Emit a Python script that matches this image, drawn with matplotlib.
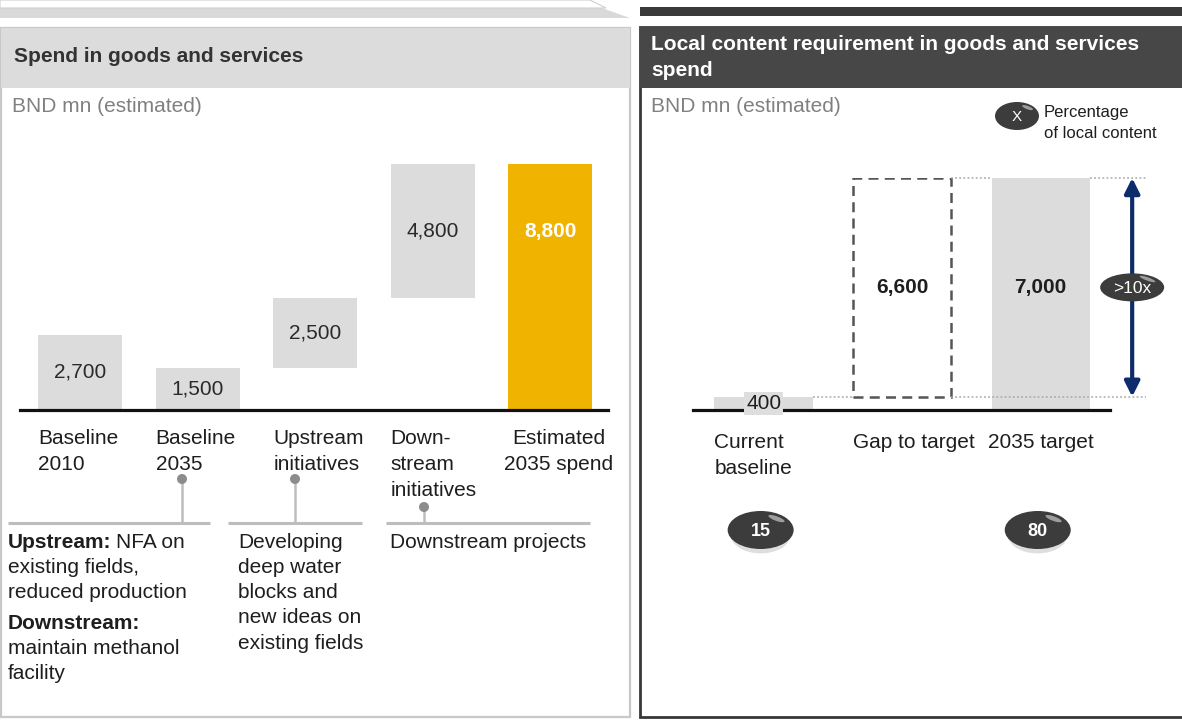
import matplotlib
matplotlib.use('Agg')
import matplotlib.pyplot as plt
from matplotlib.patches import Rectangle, Ellipse, Polygon

plt.rcParams['font.family'] = ['Liberation Sans', 'DejaVu Sans']

# ---------------- data ----------------
left_title = 'Spend in goods and services'
right_title = 'Local content requirement in goods and services\nspend'
unit_label = 'BND mn (estimated)'

left_categories = ['Baseline\n2010', 'Baseline\n2035', 'Upstream\ninitiatives',
                   'Down-\nstream\ninitiatives', 'Estimated\n2035 spend']
left_values = [2700, 1500, 2500, 4800, 8800]
left_kinds = ['total', 'total', 'delta', 'delta', 'total']
left_value_labels = ['2,700', '1,500', '2,500', '4,800', '8,800']

right_categories = ['Current\nbaseline', 'Gap to target', '2035 target']
right_values = [400, 6600, 7000]
right_kinds = ['total', 'gap', 'total']
right_value_labels = ['400', '6,600', '7,000']
local_share = ['15', None, '80']
multiple_label = '>10x'
legend_symbol = 'X'
legend_text = 'Percentage\nof local content'

note_baseline = [[('Upstream:', 'NFA on'), ('', 'existing fields,'), ('', 'reduced production')],
                 [('Downstream:', ''), ('', 'maintain methanol'), ('', 'facility')]]
note_upstream = [[('', 'Developing'), ('', 'deep water'), ('', 'blocks and'),
                  ('', 'new ideas on'), ('', 'existing fields')]]
note_downstream = [[('', 'Downstream projects')]]

# ---------------- styles ----------------
W, H = 1182, 720
GREY_BAR = '#DCDCDC'
GOLD = '#F0B400'
TXT = '#1E1E1E'
NAVY = '#0D2C6C'
PILL = '#3C3C3C'
FS = 15

fig = plt.figure(figsize=(W / 100, H / 100), dpi=100)
bg = fig.add_axes([0, 0, 1, 1])
bg.set_xlim(0, W)
bg.set_ylim(H, 0)
bg.axis('off')


def rect(x0, y0, x1, y1):
    return [x0 / W, 1 - y1 / H, (x1 - x0) / W, (y1 - y0) / H]


def to_px(ax, x, y):
    d = ax.transData.transform((x, y))
    return d[0], H - d[1]


def multiline(x, y, s, dy, **kw):
    for k, line in enumerate(s.split('\n')):
        bg.text(x, y + k * dy, line, va='center', **kw)


def note(x, y, paragraphs, dy=25.3, gap=5.5):
    yy = y
    for para in paragraphs:
        for bold, reg in para:
            if bold:
                t = bg.text(x, yy, bold, va='center', ha='left', fontsize=FS,
                            fontweight='bold', color=TXT)
                if reg:
                    bg.annotate(reg, xy=(1, yy), xycoords=(t, 'data'), xytext=(5, 0),
                                textcoords='offset pixels', va='center',
                                ha='left', fontsize=FS, color=TXT)
            else:
                bg.text(x, yy, reg, va='center', ha='left', fontsize=FS, color=TXT)
            yy += dy
        yy += gap


# ---------------- frames ----------------
bg.add_patch(Polygon([(0, 6), (596, 6), (630, 18), (0, 18)], closed=True,
                     fc='#D9D9D9', ec='none'))
bg.add_patch(Polygon([(0, 0), (590, 0), (606, 8), (0, 8)], closed=True,
                     fc='white', ec='#D0D0D0', lw=0.8))
bg.add_patch(Rectangle((640, 7), 545, 9, fc='#3A3A3A', ec='none'))

# left panel
bg.add_patch(Rectangle((1, 28), 629, 689, fc='white', ec='#C8C8C8', lw=1.6))
bg.add_patch(Rectangle((1, 28), 629, 60, fc='#DCDCDC', ec='none'))
bg.text(14, 57, left_title, va='center', ha='left', fontsize=FS, fontweight='bold',
        color='#333333')
bg.text(12, 107, unit_label, va='center', ha='left', fontsize=FS, color='#808080')

# right panel
bg.add_patch(Rectangle((640, 27), 560, 690, fc='white', ec='#383838', lw=2))
bg.add_patch(Rectangle((640, 27), 545, 61, fc='#474747', ec='none'))
multiline(651, 45, right_title, 25, ha='left', fontsize=FS, fontweight='bold',
          color='white')
bg.text(651, 107, unit_label, va='center', ha='left', fontsize=FS, color='#808080')

# ---------------- left waterfall ----------------
axL = fig.add_axes(rect(20, 164, 608, 410))
axL.patch.set_visible(False)
nL = len(left_values)
bottoms, running = [], 0
for v, k in zip(left_values, left_kinds):
    if k == 'total':
        bottoms.append(0)
        running = v
    else:
        bottoms.append(running)
        running += v
colorsL = [GREY_BAR] * (nL - 1) + [GOLD]
bw = 0.715
axL.bar(range(nL), left_values, bottom=bottoms, width=bw, color=colorsL, zorder=2)
axL.set_xlim(-0.51, nL - 0.51)
axL.set_ylim(0, max(left_values))
for s in ['top', 'left', 'right']:
    axL.spines[s].set_visible(False)
axL.spines['bottom'].set_linewidth(2.3)
axL.spines['bottom'].set_color('#111111')
axL.set_xticks([])
axL.set_yticks([])

label_y = [b + v / 2 for v, b in zip(left_values, bottoms)]
for i in range(nL):
    last = i == nL - 1
    y = label_y[i - 1] if last else label_y[i]
    axL.text(i, y, left_value_labels[i], ha='center', va='center', fontsize=FS,
             color='white' if last else '#2A2A2A', fontweight='bold' if last else 'normal',
             zorder=4)

for i, cat in enumerate(left_categories):
    if i == nL - 1:
        cx, _ = to_px(axL, i + 0.07, 0)
        multiline(cx, 438, cat, 26, ha='center', fontsize=FS, color=TXT)
    else:
        lx, _ = to_px(axL, i - bw / 2, 0)
        multiline(lx, 438, cat, 26, ha='left', fontsize=FS, color=TXT)

# pins & notes
pin_col = '#8C8C8C'
line_col = '#BDBDBD'
for px, py in [(182, 479), (295, 479), (424, 507)]:
    bg.plot([px, px], [py, 523], color=line_col, lw=1.8, solid_capstyle='butt')
    bg.add_patch(Ellipse((px, py), 10, 10, fc=pin_col, ec='none', zorder=3))
for x0, x1 in [(8, 210), (228, 362), (386, 590)]:
    bg.plot([x0, x1], [523, 523], color=line_col, lw=2.2, solid_capstyle='butt')
note(8, 542, note_baseline)
note(238, 542, note_upstream)
note(390, 542, note_downstream)

# ---------------- right chart ----------------
axR = fig.add_axes(rect(693, 178, 1110, 410))
axR.patch.set_visible(False)
nR = len(right_values)
bwR = 0.71
axR.set_xlim(-0.51, nR - 0.5)
axR.set_ylim(0, max(right_values))
for s in ['top', 'left', 'right']:
    axR.spines[s].set_visible(False)
axR.spines['bottom'].set_linewidth(2.3)
axR.spines['bottom'].set_color('#111111')
axR.set_xticks([])
axR.set_yticks([])

base_val = right_values[0]
target_val = right_values[-1]
for i, (v, k) in enumerate(zip(right_values, right_kinds)):
    if k == 'gap':
        axR.bar(i, v, bottom=base_val, width=bwR, fill=False, edgecolor='#555555',
                linestyle=(0, (4, 2.5)), linewidth=1.8, zorder=3)
    else:
        axR.bar(i, v, width=bwR, color=GREY_BAR, zorder=2)

# dotted guides
x_arrow = nR - 1 + 0.66
x_end = nR - 1 + 0.76
dot = dict(color='#A8A8A8', lw=1.1, linestyle=(0, (1.2, 1.5)), clip_on=False, zorder=3)
axR.plot([1 + bwR / 2, 2 - bwR / 2], [target_val, target_val], **dot)
axR.plot([2 + bwR / 2, x_end], [target_val, target_val], **dot)
axR.plot([bwR / 2, 1 - bwR / 2], [base_val, base_val], **dot)
axR.plot([1 + bwR / 2, x_end], [base_val, base_val], **dot)

# arrow
axR.annotate('', xy=(x_arrow, target_val), xytext=(x_arrow, base_val),
             arrowprops=dict(arrowstyle='<|-|>,head_length=0.9,head_width=0.45',
                             color=NAVY, lw=3, shrinkA=0, shrinkB=0),
             annotation_clip=False, zorder=4)

# value labels
gap_mid = base_val + right_values[1] / 2
axR.text(0, base_val / 2, right_value_labels[0], ha='center', va='center', fontsize=FS,
         color='#1E1E1E', zorder=6, clip_on=False,
         bbox=dict(boxstyle='square,pad=0.1', fc='#DEDEDE', ec='none'))
axR.text(1, gap_mid, right_value_labels[1], ha='center', va='center', fontsize=FS,
         fontweight='bold', color='#1E1E1E', zorder=6)
axR.text(2, gap_mid, right_value_labels[2], ha='center', va='center', fontsize=FS,
         fontweight='bold', color='#1E1E1E', zorder=6)

for i, cat in enumerate(right_categories):
    lx, _ = to_px(axR, i - bwR / 2, 0)
    if i == nR - 1:
        lx -= 4
    multiline(lx, 443, cat, 25, ha='left', fontsize=FS, color=TXT)

# ---------------- overlay layer for pills ----------------
fg = fig.add_axes([0, 0, 1, 1])
fg.set_xlim(0, W)
fg.set_ylim(H, 0)
fg.axis('off')
fg.patch.set_visible(False)


def pill(cx, cy, w, h, text, fs, shadow=True, weight='bold'):
    if shadow:
        fg.add_patch(Ellipse((cx, cy + h * 0.14), w * 0.9, h * 0.95, fc='#D6D6D6',
                             ec='none', alpha=0.8, zorder=3))
    fg.add_patch(Ellipse((cx, cy), w, h, fc=PILL, ec='none', zorder=4))
    fg.add_patch(Ellipse((cx + w * 0.24, cy - h * 0.3), w * 0.26, h * 0.12, angle=20,
                         fc='white', ec='none', alpha=0.5, zorder=5))
    fg.text(cx, cy + 1, text, ha='center', va='center', color='white', fontsize=fs,
            fontweight=weight, zorder=6)


ax_px, ay_px = to_px(axR, x_arrow, (target_val + base_val) / 2)
pill(ax_px, ay_px, 64, 28, multiple_label, 12.5, shadow=False, weight='normal')

for i, share in enumerate(local_share):
    if share is None:
        continue
    cx, _ = to_px(axR, i, 0)
    pill(cx - 3, 530, 66, 38, share, 13)

pill(1017, 116, 44, 28, legend_symbol, 11, shadow=False, weight='normal')
multiline(1044, 113, legend_text, 20, ha='left', fontsize=12, color=TXT)

fig.savefig('out.png', dpi=100)
